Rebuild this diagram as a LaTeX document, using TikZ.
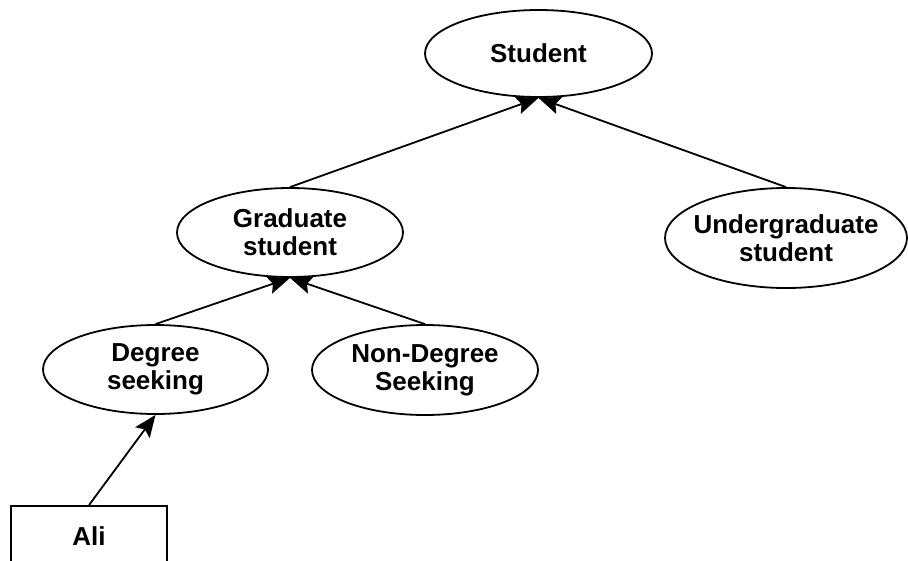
\documentclass[tikz,border=0pt]{standalone}
\usepackage{fontspec}
\setmainfont{Liberation Sans}
\usetikzlibrary{shapes.geometric,arrows.meta}
\tikzset{
  oval/.style={ellipse, draw, line width=1.8pt, inner sep=0pt},
  lbl/.style={align=center, font=\bfseries\fontsize{26}{28}\selectfont},
  arr/.style={line width=1.8pt, -{Stealth[length=22pt,width=18pt,inset=4pt]}},
  boxnode/.style={rectangle, draw, line width=1.8pt, inner sep=0pt}
}
\begin{document}
\begin{tikzpicture}[x=1pt,y=-1pt]
\useasboundingbox (0,0) rectangle (908,560);
\node[oval, minimum width=227pt, minimum height=87pt,
      label={[lbl]center:Student}] (student) at (538.5,53.5) {};
\node[oval, minimum width=226pt, minimum height=89pt,
      label={[lbl]center:Graduate\\student}] (grad) at (290,232.5) {};
\node[oval, minimum width=242pt, minimum height=100pt,
      label={[lbl]center:Undergraduate\\student}] (under) at (786,238) {};
\node[oval, minimum width=225pt, minimum height=89pt,
      label={[lbl]center:Degree\\seeking}] (degree) at (155.5,369.5) {};
\node[oval, minimum width=226pt, minimum height=90pt,
      label={[lbl]center:Non-Degree\\Seeking}] (nondeg) at (425,370) {};
\node[boxnode, minimum width=156pt, minimum height=60pt,
      label={[lbl]center:Ali}] (ali) at (89,536) {};
\draw[arr] (grad.north) -- (student.south);
\draw[arr] (under.north) -- (student.south);
\draw[arr] (degree.north) -- (grad.south);
\draw[arr] (nondeg.north) -- (grad.south);
\draw[arr] (ali.north) -- (degree.south);
\end{tikzpicture}
\end{document}
